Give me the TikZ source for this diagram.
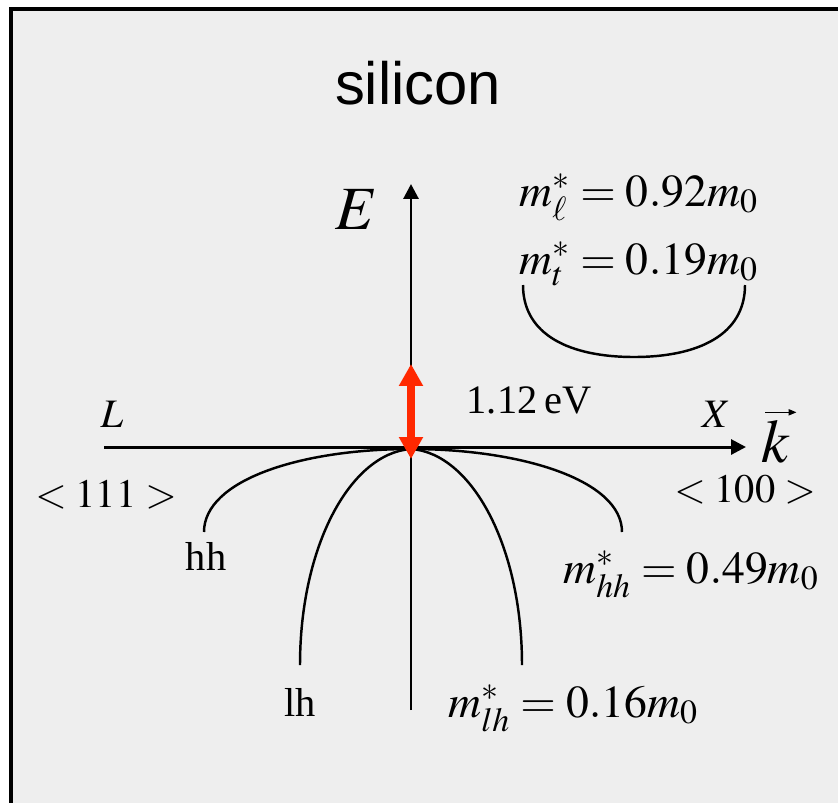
\documentclass[tikz,border=0pt]{standalone}
\usepackage{mathptmx}
\usepackage{fontspec}
\setmainfont{Liberation Serif}
\setsansfont{Liberation Sans}
\usetikzlibrary{arrows.meta, positioning}
\definecolor{cPanel}{RGB}{238,238,238}
\definecolor{cGap}{RGB}{255,40,0}
\tikzset{
	axis/.style    ={-{Triangle[length=8.5pt, width=8.5pt]}, line width=1.7pt},
	band/.style    ={line width=1.4pt},
	gaparrow/.style={{Triangle[length=12.5pt, width=13pt]}-{Triangle[length=12.5pt, width=13pt]}, line width=4pt, cGap},
	vecarrow/.style={-{Triangle[length=4.5pt, width=3.5pt]}, line width=0.8pt},
	% text styles
	lbl/.style     ={font=\fontsize{23}{28}\selectfont, inner sep=0pt},
	eq/.style      ={font=\fontsize{26}{31}\selectfont, inner sep=0pt},
	big/.style     ={font=\fontsize{35}{41}\selectfont, inner sep=0pt},
}
\begin{document}
\begin{tikzpicture}[x=0.02cm, y=-0.02cm]
	\useasboundingbox (0,0) rectangle (838,802);
	% panel
	\fill[cPanel] (11,9) rectangle (850,812);
	\draw[line width=2.3pt] (11,812) -- (11,9) -- (850,9);
	\node[font=\sffamily\fontsize{34}{40}\selectfont, inner sep=0pt] (title) at (418,83) {silicon};
	% axes
	\coordinate (O) at (411,449);
	\coordinate (Ebot) at (411,710);
	\coordinate (Etop) at (411,184);
	\coordinate (kl) at (104,447);
	\coordinate (kr) at (746,447);
	\draw[axis] (Ebot) -- (Etop);
	\draw[axis] (kl) -- (kr);
	% valence bands
	\coordinate (hhL) at (204,532);
	\coordinate (hhR) at (622,532);
	\coordinate (lhL) at (300,665);
	\coordinate (lhR) at (522,665);
	\draw[band] (O) .. controls +(-110,0) and +(0,-52) .. (hhL);
	\draw[band] (O) .. controls +(110,0) and +(0,-52) .. (hhR);
	\draw[band] (O) .. controls +(-60,4) and +(0,-120) .. (lhL);
	\draw[band] (O) .. controls +(60,4) and +(0,-120) .. (lhR);
	% conduction band
	\coordinate (aL) at (523,285);
	\coordinate (aB) at (634,357);
	\coordinate (aR) at (745,285);
	\draw[band] (aL) .. controls +(0,50) and +(-64,0) .. (aB) .. controls +(64,0) and +(0,50) .. (aR);
	% gap
	\coordinate (gT) at (411,364);
	\coordinate (gB) at (411,459);
	\draw[gaparrow] (gB) -- (gT);
	% labels
	\node[big, anchor=base] (Elbl) at (357,229) {$E$};
	\node[eq, anchor=base west] (mell) at (519,206) {$m^{*}_{\ell}=0.92m_{0}$};
	\node[eq, anchor=base west] (mt) at (519,274) {$m^{*}_{t}=0.19m_{0}$};
	\node[lbl, anchor=base] (Llbl) at (112,427) {$L$};
	\node[lbl, anchor=base] (Xlbl) at (716,427) {$X$};
	\node[big, anchor=base] (klbl) at (776,462) {$k$};
	\draw[vecarrow] ([shift={(4,-7)}]klbl.north west) -- ([shift={(6,-7)}]klbl.north east);
	\node[lbl, anchor=base] (gap) at (529,413) {1.12\,eV};
	\node[lbl, anchor=base] (dir111) at (106,507) {$<111>$};
	\node[lbl, anchor=base] (dir100) at (745,502) {$<100>$};
	\node[lbl, anchor=base] (hhlbl) at (206,570) {hh};
	\node[eq, anchor=base west] (mhh) at (563,583) {$m^{*}_{hh}=0.49m_{0}$};
	\node[lbl, anchor=base] (lhlbl) at (300,716) {lh};
	\node[eq, anchor=base west] (mlh) at (448,717) {$m^{*}_{lh}=0.16m_{0}$};
\end{tikzpicture}
\end{document}
